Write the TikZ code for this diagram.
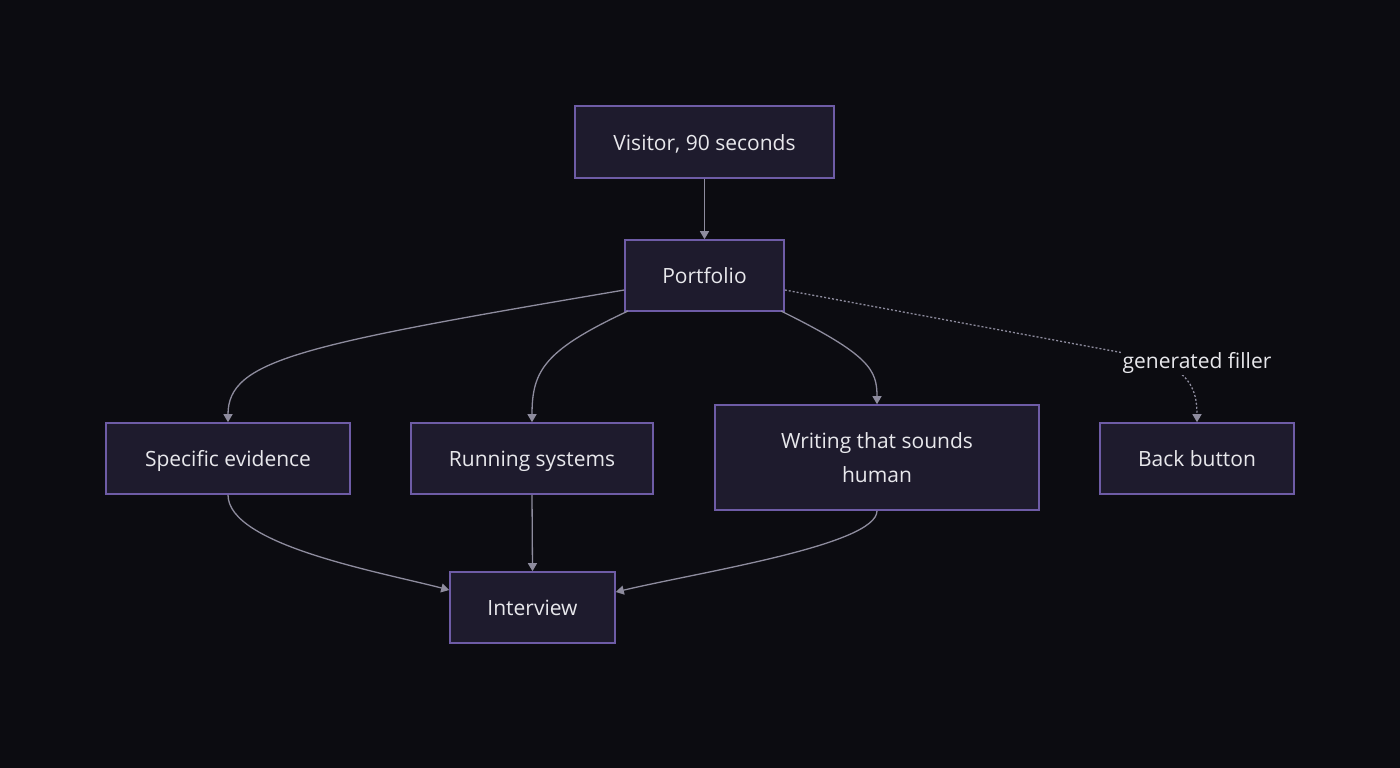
\documentclass[tikz,border=0pt]{standalone}
\usepackage{fontspec}
\setmainfont{Open Sans}
\usetikzlibrary{arrows.meta}
\definecolor{bg}{HTML}{0C0C11}
\definecolor{nodefill}{HTML}{1E1B2D}
\definecolor{nodeborder}{HTML}{6E5CA6}
\definecolor{edgecol}{HTML}{8E8C9E}
\definecolor{txt}{HTML}{E8E8EC}
\tikzset{
  box/.style={draw=nodeborder, fill=nodefill, line width=1.6pt, inner sep=0pt,
    text=txt, font=\fontsize{21}{34}\selectfont, align=center},
  onebox/.style={box, text height=21pt, text depth=5pt},
  edge/.style={draw=edgecol, line width=1.3pt, -{Triangle[width=9pt,length=8pt]}},
  dotedge/.style={draw=edgecol, line width=1.3pt, dash pattern=on 2pt off 2pt, -{Triangle[width=9pt,length=8pt]}},
  lbl/.style={fill=bg, text=txt, font=\fontsize{21}{26}\selectfont, inner sep=2pt, text height=21pt, text depth=5pt}
}
\begin{document}
\begin{tikzpicture}[x=1pt,y=-1pt]
\fill[bg] (0,0) rectangle (1400,768);
\useasboundingbox (0,0) rectangle (1400,768);

\node[onebox, minimum width=259pt, minimum height=72pt] (visitor) at (704.5,142) {Visitor, 90 seconds};
\node[onebox, minimum width=159pt, minimum height=71pt] (portfolio) at (704.5,275.5) {Portfolio};
\node[onebox, minimum width=244pt, minimum height=71pt] (specific) at (228,458.5) {Specific evidence};
\node[onebox, minimum width=242pt, minimum height=71pt] (running) at (532,458.5) {Running systems};
\node[box, minimum width=324pt, minimum height=105pt] (writing) at (877,457.5) {Writing that sounds\\human};
\node[onebox, minimum width=194pt, minimum height=71pt] (back) at (1197,458.5) {Back button};
\node[onebox, minimum width=165pt, minimum height=71pt] (interview) at (532.5,607.5) {Interview};

\draw[edge] (visitor.south) -- (portfolio.north);
\draw[edge] (portfolio.west |- 0,290) .. controls (300,345) and (228,360) .. (specific.north);
\draw[edge] (628,311) .. controls (545,350) and (532,370) .. (running.north);
\draw[edge] (781,311) .. controls (870,355) and (877,370) .. (writing.north);
\draw[dotedge] (portfolio.east |- 0,290) -- (1140,356) .. controls (1190,367) and (1197,390) .. (back.north);
\node[lbl] (gf) at (1197,360) {generated filler};

\draw[edge] (specific.south) .. controls (228,545) and (380,572) .. (interview.west |- 0,590);
\draw[edge] (running.south) -- (interview.north);
\draw[edge] (writing.south) .. controls (877,545) and (700,572) .. (interview.east |- 0,592);
\end{tikzpicture}
\end{document}
